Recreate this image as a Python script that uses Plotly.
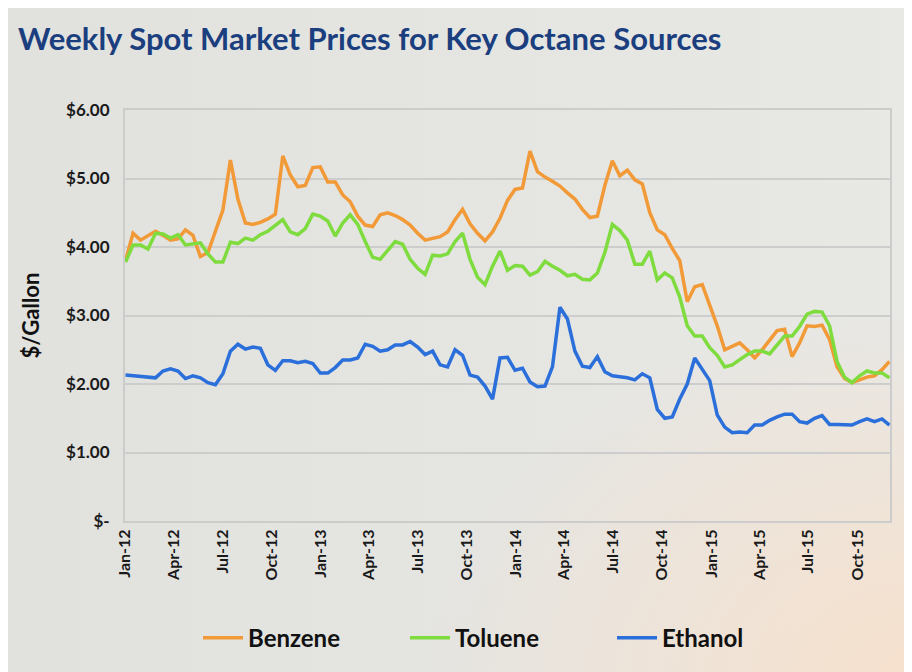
import base64
import pandas as pd
import plotly.graph_objects as go

# Bi-weekly observation dates (x categories on a date axis)
dates = pd.date_range("2012-01-02", periods=103, freq="14D")

benzene = [
    3.80, 4.20, 4.10, 4.16, 4.23, 4.17, 4.10, 4.12, 4.25, 4.17,
    3.86, 3.92, 4.22, 4.54, 5.27, 4.70, 4.35, 4.33, 4.36, 4.41,
    4.48, 5.33, 5.05, 4.88, 4.90, 5.16, 5.17, 4.95, 4.95, 4.76,
    4.66, 4.45, 4.32, 4.30, 4.47, 4.50, 4.46, 4.40, 4.32, 4.20,
    4.10, 4.12, 4.15, 4.22, 4.40, 4.55, 4.34, 4.20, 4.09, 4.22,
    4.42, 4.68, 4.84, 4.86, 5.40, 5.10, 5.02, 4.96, 4.89, 4.79,
    4.70, 4.55, 4.43, 4.45, 4.90, 5.26, 5.04, 5.12, 4.98, 4.92,
    4.50, 4.25, 4.18, 3.98, 3.80, 3.20, 3.42, 3.45, 3.15, 2.85,
    2.50, 2.55, 2.60, 2.50, 2.38, 2.50, 2.65, 2.78, 2.80, 2.40,
    2.60, 2.85, 2.84, 2.86, 2.65, 2.25, 2.08, 2.02, 2.06, 2.10,
    2.12, 2.21, 2.33,
]

toluene = [
    3.78, 4.03, 4.03, 3.97, 4.20, 4.19, 4.13, 4.18, 4.03, 4.05,
    4.06, 3.90, 3.78, 3.78, 4.07, 4.05, 4.13, 4.10, 4.18, 4.23,
    4.32, 4.40, 4.22, 4.18, 4.27, 4.48, 4.45, 4.38, 4.16, 4.35,
    4.47, 4.33, 4.08, 3.85, 3.82, 3.95, 4.08, 4.04, 3.82, 3.69,
    3.60, 3.88, 3.87, 3.90, 4.08, 4.20, 3.82, 3.56, 3.45, 3.72,
    3.94, 3.66, 3.73, 3.72, 3.59, 3.64, 3.79, 3.72, 3.66, 3.58,
    3.60, 3.53, 3.52, 3.62, 3.92, 4.33, 4.24, 4.10, 3.75, 3.75,
    3.94, 3.52, 3.62, 3.55, 3.27, 2.85, 2.70, 2.70, 2.53, 2.42,
    2.25, 2.28, 2.35, 2.43, 2.48, 2.48, 2.44, 2.57, 2.70, 2.70,
    2.84, 3.02, 3.06, 3.05, 2.85, 2.33, 2.10, 2.02, 2.12, 2.19,
    2.16, 2.16, 2.09,
]

ethanol = [
    2.13, 2.12, 2.10, 2.10, 2.09, 2.19, 2.22, 2.19, 2.08, 2.12,
    2.09, 2.02, 1.99, 2.15, 2.48, 2.58, 2.51, 2.54, 2.52, 2.28,
    2.20, 2.34, 2.34, 2.31, 2.33, 2.30, 2.16, 2.16, 2.24, 2.35,
    2.35, 2.38, 2.58, 2.55, 2.48, 2.50, 2.57, 2.57, 2.62, 2.54,
    2.43, 2.48, 2.28, 2.25, 2.50, 2.42, 2.13, 2.10, 1.97, 1.78,
    2.38, 2.39, 2.20, 2.23, 2.03, 1.96, 1.97, 2.25, 3.12, 2.95,
    2.48, 2.26, 2.24, 2.40, 2.18, 2.12, 2.11, 2.09, 2.06, 2.15,
    2.09, 1.63, 1.50, 1.52, 1.78, 2.00, 2.38, 2.21, 2.05, 1.55,
    1.37, 1.29, 1.30, 1.29, 1.40, 1.40, 1.47, 1.52, 1.56, 1.56,
    1.45, 1.43, 1.50, 1.54, 1.41, 1.41, 1.41, 1.40, 1.45, 1.49,
    1.45, 1.49, 1.40,
]

series_names = ["Benzene", "Toluene", "Ethanol"]
series_colors = ["#F29A38", "#7FDC3F", "#2B6FDB"]

y_tickvals = [0, 1, 2, 3, 4, 5, 6]
y_ticktext = ["$-", "$1.00", "$2.00", "$3.00", "$4.00", "$5.00", "$6.00"]

FONT = "Lato"

fig = go.Figure()
for name, vals, col in zip(series_names, [benzene, toluene, ethanol], series_colors):
    fig.add_trace(go.Scatter(
        x=dates, y=vals, name=name, mode="lines",
        line=dict(color=col, width=3.5),
    ))

# soft background gradient (grey with peach corner)
svg = """<svg xmlns='http://www.w3.org/2000/svg' width='912' height='672'>
<defs>
<radialGradient id='g' cx='1.0' cy='1.0' r='0.55'>
<stop offset='0' stop-color='#F6E0CC' stop-opacity='1'/>
<stop offset='1' stop-color='#F6E0CC' stop-opacity='0'/>
</radialGradient>
<linearGradient id='l' x1='0' y1='0' x2='1' y2='0'>
<stop offset='0' stop-color='#E1E1DE'/>
<stop offset='1' stop-color='#E8E8E5'/>
</linearGradient>
</defs>
<rect width='912' height='672' fill='url(#l)'/>
<rect width='912' height='672' fill='url(#g)'/>
</svg>"""
uri = "data:image/svg+xml;base64," + base64.b64encode(svg.encode()).decode()

L, R, T, B = 117, 30, 102, 159
pw, ph = 912 - L - R, 672 - T - B

fig.add_layout_image(dict(
    source=uri, xref="paper", yref="paper",
    x=-L / pw, y=1 + T / ph, sizex=912 / pw, sizey=672 / ph,
    xanchor="left", yanchor="top", sizing="stretch", layer="below",
))

fig.update_layout(
    width=912, height=672,
    margin=dict(l=L, r=R, t=T, b=B),
    paper_bgcolor="#E3E3E0",
    plot_bgcolor="rgba(243,243,241,0.9)",
    title=dict(
        text="<b>Weekly Spot Market Prices for Key Octane Sources</b>",
        x=0.011, xanchor="left", xref="container",
        y=0.953, yanchor="middle", yref="container",
        font=dict(family=FONT, size=31, color="#1B3F7E", weight=900),
    ),
    font=dict(family=FONT, color="#1a1a1a"),
    showlegend=True,
    legend=dict(
        orientation="h", x=(190 - L) / pw, xanchor="left", y=-0.285, yanchor="middle",
        font=dict(family=FONT, size=24, color="#111111", weight=700),
        bgcolor="rgba(0,0,0,0)", itemwidth=40,
        entrywidth=152, entrywidthmode="pixels",
    ),
    xaxis=dict(
        type="date",
        range=["2012-01-01", "2015-12-01"],
        tick0="2012-01-01", dtick="M3", tickformat="%b-%y",
        tickangle=-90,
        tickfont=dict(family=FONT, size=16, color="#1a1a1a", weight=700),
        showgrid=False, zeroline=False,
        showline=True, linecolor="#CCCCCC", linewidth=2, mirror=True,
        ticks="",
    ),
    yaxis=dict(
        range=[0, 6], tickvals=y_tickvals, ticktext=y_ticktext,
        tickfont=dict(family=FONT, size=17, color="#1a1a1a", weight=700),
        showgrid=True, gridcolor="#CDCDCD", gridwidth=1.5,
        zeroline=False,
        showline=True, linecolor="#CCCCCC", linewidth=2, mirror=True,
        ticks="", ticklabelstandoff=10,
        title=dict(text="<b>$/Gallon</b>", standoff=20,
                   font=dict(family=FONT, size=22, color="#111111")),
    ),
)

fig.write_html("out.html")
